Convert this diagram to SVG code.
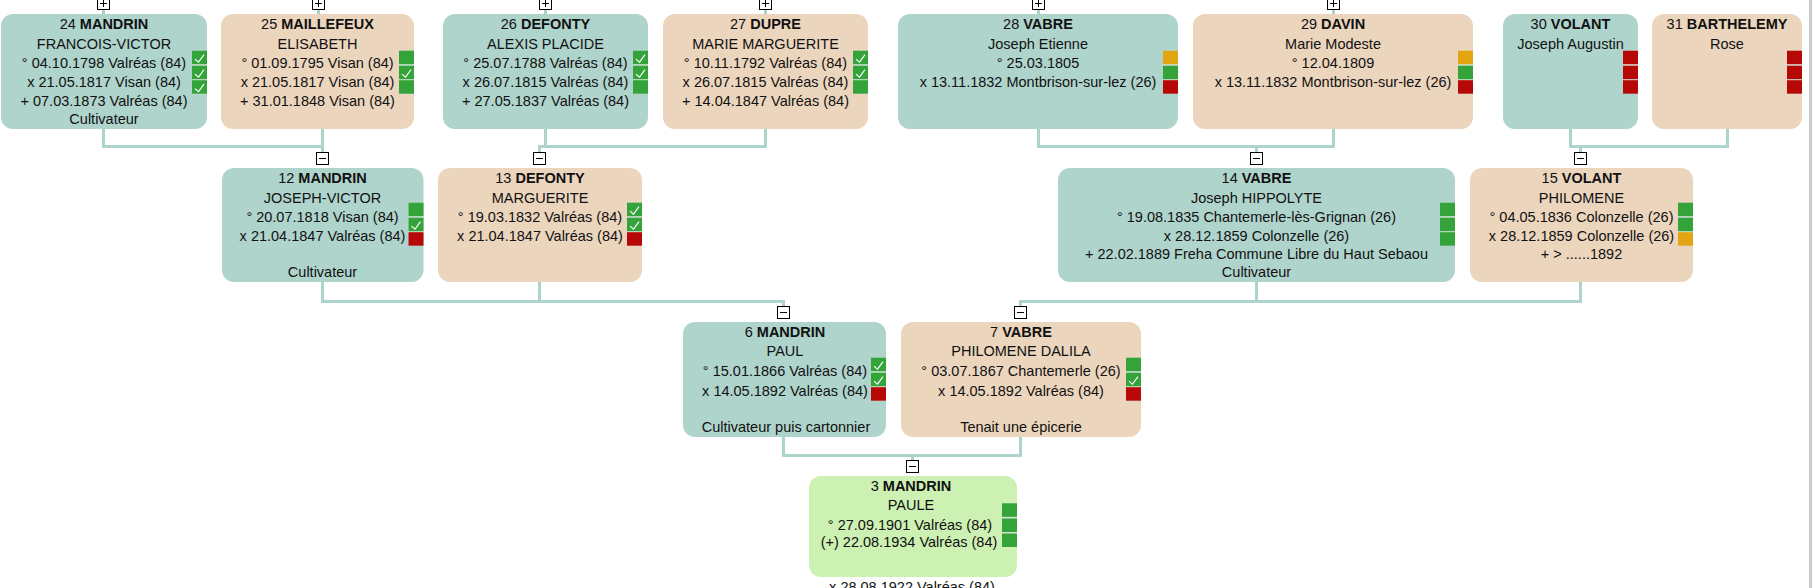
<svg xmlns="http://www.w3.org/2000/svg" xmlns:xlink="http://www.w3.org/1999/xlink" width="1812" height="588" viewBox="0 0 1812 588">
<style>
.m{fill:#afd4cc}
.f{fill:#ecd5bd}
.g{fill:#cdf0b3}
text{font-family:"Liberation Sans",Arial,sans-serif;font-size:14.5px;fill:#111;text-anchor:middle}
.b{font-weight:bold}
.ig{fill:#33a33a}
.ir{fill:#b70808}
.io{fill:#e3a512}
.bk{fill:#d4e2d8}
.ck{stroke:#fff;stroke-width:1.1;fill:none}
.conn{stroke:#acd4cc;stroke-width:3;fill:none}
.tog{fill:#fff;stroke:#000;stroke-width:1}
.ts{stroke:#000;stroke-width:1;fill:none}
</style>
<defs>
<path id="ck" class="ck" d="M3 8.5 L6.5 11.5 L12 4"/>
</defs>
<rect x="0" y="0" width="1812" height="588" fill="#fff"/>
<rect x="1809" y="0" width="3" height="588" fill="#cbcbcb"/>

<g id="connectors">
<path class="conn" d="M103.5 10 V14 M318.5 10 V14 M545.5 10 V14 M765.5 10 V14 M1038.5 10 V14 M1333.5 10 V14"/>
<path class="conn" d="M103.5 129 V146.5 H322.5 M322.5 129 V152"/>
<path class="conn" d="M545.5 129 V146.5 M765.5 129 V146.5 H539.5 V152"/>
<path class="conn" d="M1038.5 129 V146.5 H1333.5 V129 M1256.5 146.5 V152"/>
<path class="conn" d="M1570.5 129 V146.5 H1727.5 V129 M1580.5 146.5 V152"/>
<path class="conn" d="M322.5 282 V301.5 H783.5 V306 M539.5 282 V301.5"/>
<path class="conn" d="M1256.5 282 V301.5 M1580.5 282 V301.5 H1020.5 V306"/>
<path class="conn" d="M783.5 437 V455.5 H1020.5 V437 M912.5 455.5 V460"/>
</g>

<g id="toggles">
<rect class="tog" x="97.5" y="-2.5" width="12" height="12"/><path class="ts" d="M100 3.5 H107 M103.5 0 V7"/>
<rect class="tog" x="312.5" y="-2.5" width="12" height="12"/><path class="ts" d="M315 3.5 H322 M318.5 0 V7"/>
<rect class="tog" x="539.5" y="-2.5" width="12" height="12"/><path class="ts" d="M542 3.5 H549 M545.5 0 V7"/>
<rect class="tog" x="759.5" y="-2.5" width="12" height="12"/><path class="ts" d="M762 3.5 H769 M765.5 0 V7"/>
<rect class="tog" x="1032.5" y="-2.5" width="12" height="12"/><path class="ts" d="M1035 3.5 H1042 M1038.5 0 V7"/>
<rect class="tog" x="1327.5" y="-2.5" width="12" height="12"/><path class="ts" d="M1330 3.5 H1337 M1333.5 0 V7"/>
<rect class="tog" x="316.5" y="152.5" width="12" height="12"/><path class="ts" d="M319 158.5 H326"/>
<rect class="tog" x="533.5" y="152.5" width="12" height="12"/><path class="ts" d="M536 158.5 H543"/>
<rect class="tog" x="1250.5" y="152.5" width="12" height="12"/><path class="ts" d="M1253 158.5 H1260"/>
<rect class="tog" x="1574.5" y="152.5" width="12" height="12"/><path class="ts" d="M1577 158.5 H1584"/>
<rect class="tog" x="777.5" y="306.5" width="12" height="12"/><path class="ts" d="M780 312.5 H787"/>
<rect class="tog" x="1014.5" y="306.5" width="12" height="12"/><path class="ts" d="M1017 312.5 H1024"/>
<rect class="tog" x="906.5" y="460.5" width="12" height="12"/><path class="ts" d="M909 466.5 H916"/>
</g>

<g id="node-24">
<rect class="m" x="1" y="14" width="206" height="115" rx="12"/>
<text x="104" y="29">24 <tspan class="b">MANDRIN</tspan></text>
<text x="104" y="49">FRANCOIS-VICTOR</text>
<text x="104" y="68">° 04.10.1798 Valréas (84)</text>
<text x="104" y="87">x 21.05.1817 Visan (84)</text>
<text x="104" y="106">+ 07.03.1873 Valréas (84)</text>
<text x="104" y="124">Cultivateur</text>
<rect class="bk" x="192" y="50.7" width="15" height="43"/>
<rect class="ig" x="192" y="50.7" width="15" height="13.5"/><use href="#ck" x="192" y="50.7"/>
<rect class="ig" x="192" y="65.7" width="15" height="13.5"/><use href="#ck" x="192" y="65.7"/>
<rect class="ig" x="192" y="80.2" width="15" height="13.5"/><use href="#ck" x="192" y="80.2"/>
</g>

<g id="node-25">
<rect class="f" x="221" y="14" width="193" height="115" rx="12"/>
<text x="317.5" y="29">25 <tspan class="b">MAILLEFEUX</tspan></text>
<text x="317.5" y="49">ELISABETH</text>
<text x="317.5" y="68">° 01.09.1795 Visan (84)</text>
<text x="317.5" y="87">x 21.05.1817 Visan (84)</text>
<text x="317.5" y="106">+ 31.01.1848 Visan (84)</text>
<rect class="bk" x="399" y="50.7" width="15" height="43"/>
<rect class="ig" x="399" y="50.7" width="15" height="13.5"/>
<rect class="ig" x="399" y="65.7" width="15" height="13.5"/><use href="#ck" x="399" y="65.7"/>
<rect class="ig" x="399" y="80.2" width="15" height="13.5"/>
</g>

<g id="node-26">
<rect class="m" x="443" y="14" width="205" height="115" rx="12"/>
<text x="545.5" y="29">26 <tspan class="b">DEFONTY</tspan></text>
<text x="545.5" y="49">ALEXIS PLACIDE</text>
<text x="545.5" y="68">° 25.07.1788 Valréas (84)</text>
<text x="545.5" y="87">x 26.07.1815 Valréas (84)</text>
<text x="545.5" y="106">+ 27.05.1837 Valréas (84)</text>
<rect class="bk" x="633" y="50.7" width="15" height="43"/>
<rect class="ig" x="633" y="50.7" width="15" height="13.5"/><use href="#ck" x="633" y="50.7"/>
<rect class="ig" x="633" y="65.7" width="15" height="13.5"/><use href="#ck" x="633" y="65.7"/>
<rect class="ig" x="633" y="80.2" width="15" height="13.5"/>
</g>

<g id="node-27">
<rect class="f" x="663" y="14" width="205" height="115" rx="12"/>
<text x="765.5" y="29">27 <tspan class="b">DUPRE</tspan></text>
<text x="765.5" y="49">MARIE MARGUERITE</text>
<text x="765.5" y="68">° 10.11.1792 Valréas (84)</text>
<text x="765.5" y="87">x 26.07.1815 Valréas (84)</text>
<text x="765.5" y="106">+ 14.04.1847 Valréas (84)</text>
<rect class="bk" x="853" y="50.7" width="15" height="43"/>
<rect class="ig" x="853" y="50.7" width="15" height="13.5"/><use href="#ck" x="853" y="50.7"/>
<rect class="ig" x="853" y="65.7" width="15" height="13.5"/><use href="#ck" x="853" y="65.7"/>
<rect class="ig" x="853" y="80.2" width="15" height="13.5"/>
</g>

<g id="node-28">
<rect class="m" x="898" y="14" width="280" height="115" rx="12"/>
<text x="1038" y="29">28 <tspan class="b">VABRE</tspan></text>
<text x="1038" y="49">Joseph Etienne</text>
<text x="1038" y="68">° 25.03.1805</text>
<text x="1038" y="87">x 13.11.1832 Montbrison-sur-lez (26)</text>
<rect class="bk" x="1163" y="50.7" width="15" height="43"/>
<rect class="io" x="1163" y="50.7" width="15" height="13.5"/>
<rect class="ig" x="1163" y="65.7" width="15" height="13.5"/>
<rect class="ir" x="1163" y="80.2" width="15" height="13.5"/>
</g>

<g id="node-29">
<rect class="f" x="1193" y="14" width="280" height="115" rx="12"/>
<text x="1333" y="29">29 <tspan class="b">DAVIN</tspan></text>
<text x="1333" y="49">Marie Modeste</text>
<text x="1333" y="68">° 12.04.1809</text>
<text x="1333" y="87">x 13.11.1832 Montbrison-sur-lez (26)</text>
<rect class="bk" x="1458" y="50.7" width="15" height="43"/>
<rect class="io" x="1458" y="50.7" width="15" height="13.5"/>
<rect class="ig" x="1458" y="65.7" width="15" height="13.5"/>
<rect class="ir" x="1458" y="80.2" width="15" height="13.5"/>
</g>

<g id="node-30">
<rect class="m" x="1503" y="14" width="135" height="115" rx="12"/>
<text x="1570.5" y="29">30 <tspan class="b">VOLANT</tspan></text>
<text x="1570.5" y="49">Joseph Augustin</text>
<rect class="bk" x="1623" y="50.7" width="15" height="43"/>
<rect class="ir" x="1623" y="50.7" width="15" height="13.5"/>
<rect class="ir" x="1623" y="65.7" width="15" height="13.5"/>
<rect class="ir" x="1623" y="80.2" width="15" height="13.5"/>
</g>

<g id="node-31">
<rect class="f" x="1652" y="14" width="150" height="115" rx="12"/>
<text x="1727" y="29">31 <tspan class="b">BARTHELEMY</tspan></text>
<text x="1727" y="49">Rose</text>
<rect class="bk" x="1787" y="50.7" width="15" height="43"/>
<rect class="ir" x="1787" y="50.7" width="15" height="13.5"/>
<rect class="ir" x="1787" y="65.7" width="15" height="13.5"/>
<rect class="ir" x="1787" y="80.2" width="15" height="13.5"/>
</g>

<g id="node-12">
<rect class="m" x="222" y="168" width="201.5" height="114" rx="12"/>
<text x="322.5" y="183">12 <tspan class="b">MANDRIN</tspan></text>
<text x="322.5" y="203">JOSEPH-VICTOR</text>
<text x="322.5" y="222">° 20.07.1818 Visan (84)</text>
<text x="322.5" y="241">x 21.04.1847 Valréas (84)</text>
<text x="322.5" y="277">Cultivateur</text>
<rect class="bk" x="408.5" y="202.7" width="15" height="43"/>
<rect class="ig" x="408.5" y="202.7" width="15" height="13.5"/>
<rect class="ig" x="408.5" y="217.7" width="15" height="13.5"/><use href="#ck" x="408.5" y="217.7"/>
<rect class="ir" x="408.5" y="232.2" width="15" height="13.5"/>
</g>

<g id="node-13">
<rect class="f" x="438" y="168" width="204" height="114" rx="12"/>
<text x="540" y="183">13 <tspan class="b">DEFONTY</tspan></text>
<text x="540" y="203">MARGUERITE</text>
<text x="540" y="222">° 19.03.1832 Valréas (84)</text>
<text x="540" y="241">x 21.04.1847 Valréas (84)</text>
<rect class="bk" x="627" y="202.7" width="15" height="43"/>
<rect class="ig" x="627" y="202.7" width="15" height="13.5"/><use href="#ck" x="627" y="202.7"/>
<rect class="ig" x="627" y="217.7" width="15" height="13.5"/><use href="#ck" x="627" y="217.7"/>
<rect class="ir" x="627" y="232.2" width="15" height="13.5"/>
</g>

<g id="node-14">
<rect class="m" x="1058" y="168" width="397" height="114" rx="12"/>
<text x="1256.5" y="183">14 <tspan class="b">VABRE</tspan></text>
<text x="1256.5" y="203">Joseph HIPPOLYTE</text>
<text x="1256.5" y="222">° 19.08.1835 Chantemerle-lès-Grignan (26)</text>
<text x="1256.5" y="241">x 28.12.1859 Colonzelle (26)</text>
<text x="1256.5" y="259">+ 22.02.1889 Freha Commune Libre du Haut Sebaou</text>
<text x="1256.5" y="277">Cultivateur</text>
<rect class="bk" x="1440" y="202.7" width="15" height="43"/>
<rect class="ig" x="1440" y="202.7" width="15" height="13.5"/>
<rect class="ig" x="1440" y="217.7" width="15" height="13.5"/>
<rect class="ig" x="1440" y="232.2" width="15" height="13.5"/>
</g>

<g id="node-15">
<rect class="f" x="1470" y="168" width="223" height="114" rx="12"/>
<text x="1581.5" y="183">15 <tspan class="b">VOLANT</tspan></text>
<text x="1581.5" y="203">PHILOMENE</text>
<text x="1581.5" y="222">° 04.05.1836 Colonzelle (26)</text>
<text x="1581.5" y="241">x 28.12.1859 Colonzelle (26)</text>
<text x="1581.5" y="259">+ &gt; ......1892</text>
<rect class="bk" x="1678" y="202.7" width="15" height="43"/>
<rect class="ig" x="1678" y="202.7" width="15" height="13.5"/>
<rect class="ig" x="1678" y="217.7" width="15" height="13.5"/>
<rect class="io" x="1678" y="232.2" width="15" height="13.5"/>
</g>

<g id="node-6">
<rect class="m" x="683" y="322" width="203" height="115" rx="12"/>
<text x="785" y="337">6 <tspan class="b">MANDRIN</tspan></text>
<text x="785" y="356">PAUL</text>
<text x="785" y="376">° 15.01.1866 Valréas (84)</text>
<text x="785" y="396">x 14.05.1892 Valréas (84)</text>
<text x="786" y="432">Cultivateur puis cartonnier</text>
<rect class="bk" x="871" y="357.7" width="15" height="43"/>
<rect class="ig" x="871" y="357.7" width="15" height="13.5"/><use href="#ck" x="871" y="357.7"/>
<rect class="ig" x="871" y="372.7" width="15" height="13.5"/><use href="#ck" x="871" y="372.7"/>
<rect class="ir" x="871" y="387.2" width="15" height="13.5"/>
</g>

<g id="node-7">
<rect class="f" x="901" y="322" width="240" height="115" rx="12"/>
<text x="1021" y="337">7 <tspan class="b">VABRE</tspan></text>
<text x="1021" y="356">PHILOMENE DALILA</text>
<text x="1021" y="376">° 03.07.1867 Chantemerle (26)</text>
<text x="1021" y="396">x 14.05.1892 Valréas (84)</text>
<text x="1021" y="432">Tenait une épicerie</text>
<rect class="bk" x="1126" y="357.7" width="15" height="43"/>
<rect class="ig" x="1126" y="357.7" width="15" height="13.5"/>
<rect class="ig" x="1126" y="372.7" width="15" height="13.5"/><use href="#ck" x="1126" y="372.7"/>
<rect class="ir" x="1126" y="387.2" width="15" height="13.5"/>
</g>

<g id="node-3">
<rect class="g" x="809" y="476" width="208" height="101" rx="12"/>
<text x="911" y="491">3 <tspan class="b">MANDRIN</tspan></text>
<text x="911" y="510">PAULE</text>
<text x="910" y="530">° 27.09.1901 Valréas (84)</text>
<text x="909" y="547">(+) 22.08.1934 Valréas (84)</text>
<text x="912" y="592">x 28.08.1922 Valréas (84)</text>
<rect class="bk" x="1002" y="503.3" width="15" height="43.5"/>
<rect class="ig" x="1002" y="503.3" width="15" height="13.5"/>
<rect class="ig" x="1002" y="518.5" width="15" height="13.5"/>
<rect class="ig" x="1002" y="533.5" width="15" height="13.5"/>
</g>
</svg>
